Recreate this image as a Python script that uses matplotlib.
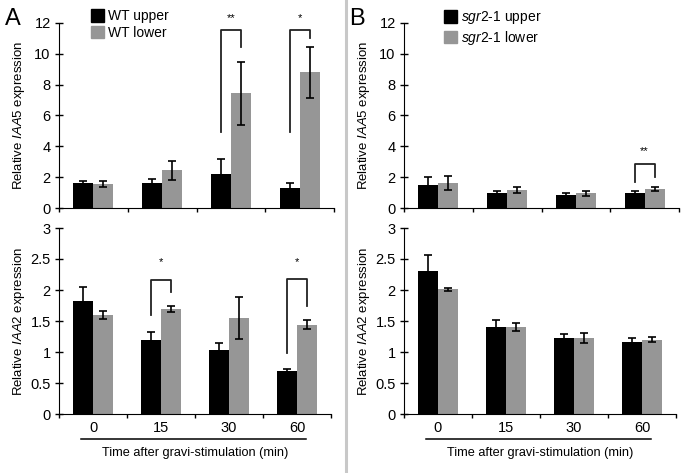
import numpy as np
import matplotlib
matplotlib.use('Agg')
import matplotlib.pyplot as plt
from matplotlib.lines import Line2D
from matplotlib.patches import Patch

plt.rcParams['font.family'] = ['Liberation Sans', 'DejaVu Sans']
plt.rcParams['mathtext.fontset'] = 'custom'
plt.rcParams['mathtext.rm'] = 'Liberation Sans'
plt.rcParams['mathtext.it'] = 'Liberation Sans:italic'

times = ['0', '15', '30', '60']

# panel A, WT
wt_iaa5_upper = [1.6, 1.6, 2.2, 1.3]
wt_iaa5_upper_err = [0.15, 0.27, 1.0, 0.35]
wt_iaa5_lower = [1.55, 2.44, 7.45, 8.8]
wt_iaa5_lower_err = [0.2, 0.6, 2.05, 1.67]

wt_iaa2_upper = [1.82, 1.2, 1.03, 0.7]
wt_iaa2_upper_err = [0.23, 0.12, 0.12, 0.03]
wt_iaa2_lower = [1.59, 1.69, 1.55, 1.44]
wt_iaa2_lower_err = [0.065, 0.045, 0.34, 0.07]

# panel B, sgr2-1
sgr_iaa5_upper = [1.49, 0.98, 0.84, 0.95]
sgr_iaa5_upper_err = [0.54, 0.13, 0.15, 0.13]
sgr_iaa5_lower = [1.6, 1.17, 0.95, 1.23]
sgr_iaa5_lower_err = [0.45, 0.17, 0.14, 0.14]

sgr_iaa2_upper = [2.3, 1.4, 1.23, 1.16]
sgr_iaa2_upper_err = [0.27, 0.11, 0.06, 0.06]
sgr_iaa2_lower = [2.01, 1.40, 1.23, 1.20]
sgr_iaa2_lower_err = [0.03, 0.06, 0.08, 0.045]

# significance brackets: (group, bracket top, left leg end, right leg end, star level, stars)
wt_iaa5_sig = [(2, 11.55, 4.9, 10.45, 12.35, '**'), (3, 11.55, 4.9, 11.0, 12.35, '*')]
wt_iaa2_sig = [(1, 2.16, 1.6, 1.97, 2.45, '*'), (3, 2.17, 0.98, 1.75, 2.45, '*')]
sgr_iaa5_sig = [(3, 2.83, 1.66, 1.99, 3.7, '**')]
sgr_iaa2_sig = []

BLACK = '#000000'
GREY = '#969696'
W, H = 690, 473

fig = plt.figure(figsize=(W / 100, H / 100), dpi=100)


def add_axes(l, r, t, b):
    return fig.add_axes([l / W, 1 - b / H, (r - l) / W, (b - t) / H])


def draw(ax, upper, uerr, lower, lerr, ymax, ystep, sig, ylabel, show_x):
    x = np.arange(len(times))
    w = 0.29
    ekw = dict(ecolor='black', elinewidth=1.2, capsize=3, capthick=1.2)
    ax.bar(x - w / 2, upper, w, color=BLACK, yerr=uerr, error_kw=ekw)
    ax.bar(x + w / 2, lower, w, color=GREY, yerr=lerr, error_kw=ekw)
    ax.set_xlim(-0.5, len(times) - 0.5)
    ax.set_ylim(0, ymax)
    ax.set_yticks(np.arange(0, ymax + ystep / 2, ystep))
    ax.yaxis.set_major_formatter(lambda v, p: f'{v:g}')
    ax.set_xticks(np.arange(-0.5, len(times), 1))
    ax.set_xticklabels([])
    ax.set_xticks(x, minor=True)
    if show_x:
        ax.set_xticklabels(times, minor=True)
    ax.tick_params(axis='x', which='major', direction='out', length=3, width=1)
    ax.tick_params(axis='x', which='minor', length=0, pad=5, labelsize=10.5)
    ax.tick_params(axis='y', direction='inout', length=6, width=1, pad=3, labelsize=10.5)
    for s in ['top', 'right']:
        ax.spines[s].set_visible(False)
    ax.set_ylabel(ylabel, fontsize=9.5)
    ax.yaxis.set_label_coords(-0.118, 0.5)

    for g, top, lend, rend, sy, stars in sig:
        x0, x1 = g - w / 2, g + w / 2
        ax.plot([x0, x0, x1, x1], [lend, top, top, rend], color='#222222', lw=1.3, clip_on=False)
        ax.text(g, sy, stars, ha='center', va='center', fontsize=8, clip_on=False)

    if show_x:
        ax.plot([0.081, 0.908], [-0.135, -0.135], transform=ax.transAxes,
                color='black', lw=1.1, clip_on=False)
        ax.set_xlabel('Time after gravi-stimulation (min)', fontsize=9.2)
        ax.xaxis.set_label_coords(0.5, -0.18)


def legend(ax, labels, xa):
    handles = [Patch(color=BLACK), Patch(color=GREY)]
    ax.legend(handles, labels, loc='upper left', bbox_to_anchor=(xa, 1.075), frameon=False,
              fontsize=10, handlelength=0.95, handleheight=1.0, handletextpad=0.25,
              labelspacing=0.18, borderpad=0, borderaxespad=0)


axA1 = add_axes(59, 334, 23, 208)
axA2 = add_axes(59, 331, 228, 414)
axB1 = add_axes(404, 679, 23, 208)
axB2 = add_axes(404, 676, 228, 414)

draw(axA1, wt_iaa5_upper, wt_iaa5_upper_err, wt_iaa5_lower, wt_iaa5_lower_err,
     12, 2, wt_iaa5_sig, r'Relative $\mathit{IAA5}$ expression', False)
draw(axA2, wt_iaa2_upper, wt_iaa2_upper_err, wt_iaa2_lower, wt_iaa2_lower_err,
     3, 0.5, wt_iaa2_sig, r'Relative $\mathit{IAA2}$ expression', True)
draw(axB1, sgr_iaa5_upper, sgr_iaa5_upper_err, sgr_iaa5_lower, sgr_iaa5_lower_err,
     12, 2, sgr_iaa5_sig, r'Relative $\mathit{IAA5}$ expression', False)
draw(axB2, sgr_iaa2_upper, sgr_iaa2_upper_err, sgr_iaa2_lower, sgr_iaa2_lower_err,
     3, 0.5, sgr_iaa2_sig, r'Relative $\mathit{IAA2}$ expression', True)

legend(axA1, ['WT upper', 'WT lower'], 0.116)
legend(axB1, [r'$\mathit{sgr2}$-$\mathit{1}$ upper', r'$\mathit{sgr2}$-$\mathit{1}$ lower'], 0.145)

fig.text(13 / W, 1 - 19 / H, 'A', fontsize=17, ha='center', va='center')
fig.text(357 / W, 1 - 19 / H, 'B', fontsize=17, ha='center', va='center')

fig.add_artist(Line2D([346 / W, 346 / W], [0, 1], color='#c8c8c8', lw=2.2))

fig.savefig('out.png', dpi=100)
